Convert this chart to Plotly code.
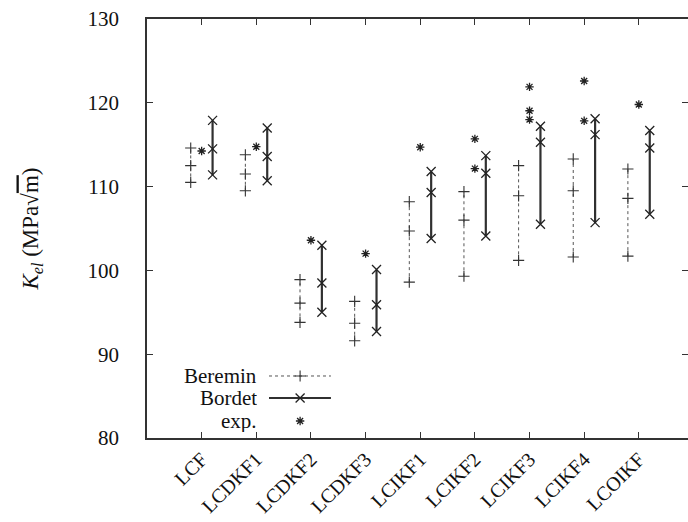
import plotly.graph_objects as go

categories = ["LCF", "LCDKF1", "LCDKF2", "LCDKF3", "LCIKF1", "LCIKF2", "LCIKF3", "LCIKF4", "LCOIKF"]
beremin_max = [114.6, 113.8, 98.9, 96.3, 108.2, 109.4, 112.5, 113.3, 112.1]
beremin_mid = [112.5, 111.5, 96.1, 93.7, 104.7, 106.0, 108.9, 109.5, 108.6]
beremin_min = [110.5, 109.5, 93.8, 91.6, 98.6, 99.3, 101.2, 101.6, 101.7]
bordet_max = [117.9, 117.0, 103.0, 100.1, 111.8, 113.7, 117.2, 118.1, 116.7]
bordet_mid = [114.5, 113.6, 98.5, 95.9, 109.3, 111.6, 115.3, 116.2, 114.6]
bordet_min = [111.4, 110.7, 95.0, 92.7, 103.8, 104.1, 105.5, 105.7, 106.7]
exp_values = [[114.25], [114.76], [103.6], [102.0], [114.7], [115.7, 112.15],
              [121.9, 119.05, 118.0], [122.6, 117.85], [119.8]]
y_ticks = [80, 90, 100, 110, 120, 130]

FONT = "Liberation Serif"
positions = list(range(1, len(categories) + 1))

BER_LINE = dict(color="#555555", width=1, dash="dot")
BER_MARK = dict(symbol="cross-thin-open", size=8, color="#333333",
                line=dict(width=1.1, color="#333333"))
BOR_LINE = dict(color="#303030", width=2.2)
BOR_MARK = dict(symbol="x-thin-open", size=9, color="#222222",
                line=dict(width=1.3, color="#222222"))
EXP_MARK = dict(symbol="asterisk-open", size=7, color="#222222",
                line=dict(width=1.3, color="#222222"))


def group_xy(vmin, vmid, vmax, offset):
    xs, ys = [], []
    for p, a, b, c in zip(positions, vmin, vmid, vmax):
        xs += [p + offset] * 3 + [None]
        ys += [a, b, c, None]
    return xs, ys


fig = go.Figure()

bx, by = group_xy(beremin_min, beremin_mid, beremin_max, -0.2)
fig.add_trace(go.Scatter(x=bx, y=by, mode="lines+markers", name="Beremin",
                         line=BER_LINE, marker=BER_MARK, showlegend=False))

dx, dy = group_xy(bordet_min, bordet_mid, bordet_max, 0.2)
fig.add_trace(go.Scatter(x=dx, y=dy, mode="lines+markers", name="Bordet",
                         line=BOR_LINE, marker=BOR_MARK, showlegend=False))

ex, ey = [], []
for p, vals in zip(positions, exp_values):
    for v in vals:
        ex.append(p)
        ey.append(v)
fig.add_trace(go.Scatter(x=ex, y=ey, mode="markers", name="exp.",
                         marker=EXP_MARK, showlegend=False))

# manual legend (text left, sample right) in an overlay frame of the plot area
leg_rows = [0.148, 0.0955, 0.0406]
leg_x = [0.2255, 0.283, 0.340]
fig.add_trace(go.Scatter(x=leg_x, y=[leg_rows[0]] * 3, xaxis="x2", yaxis="y2",
                         mode="lines", line=BER_LINE, showlegend=False, hoverinfo="skip"))
fig.add_trace(go.Scatter(x=[leg_x[1]], y=[leg_rows[0]], xaxis="x2", yaxis="y2", mode="markers",
                         marker=BER_MARK, showlegend=False, hoverinfo="skip"))
fig.add_trace(go.Scatter(x=leg_x, y=[leg_rows[1]] * 3, xaxis="x2", yaxis="y2",
                         mode="lines", line=BOR_LINE, showlegend=False, hoverinfo="skip"))
fig.add_trace(go.Scatter(x=[leg_x[1]], y=[leg_rows[1]], xaxis="x2", yaxis="y2", mode="markers",
                         marker=BOR_MARK, showlegend=False, hoverinfo="skip"))
fig.add_trace(go.Scatter(x=[leg_x[1]], y=[leg_rows[2]], xaxis="x2", yaxis="y2", mode="markers",
                         marker=EXP_MARK, showlegend=False, hoverinfo="skip"))
for txt, yy in zip(["Beremin", "Bordet", "exp."], leg_rows):
    fig.add_annotation(x=0.207, y=yy, xref="x2", yref="y2", text=txt, showarrow=False,
                       xanchor="right", yanchor="middle", height=22,
                       font=dict(family=FONT, size=21, color="#111111"))

fig.update_layout(
    width=688, height=522,
    margin=dict(l=147, r=0, t=19, b=84),
    paper_bgcolor="white", plot_bgcolor="white",
    font=dict(family=FONT, size=20, color="#111111"),
    xaxis=dict(range=[0, 9.9], tickmode="array", tickvals=positions, ticktext=categories,
               tickangle=-45, ticks="inside", ticklen=6, tickwidth=1.3, tickcolor="#333",
               showline=True, linecolor="#333", linewidth=1.5, mirror="ticks",
               showgrid=False, zeroline=False, automargin=False,
               tickfont=dict(family=FONT, size=20, color="#111111")),
    yaxis=dict(range=[80, 130], tickvals=y_ticks, ticks="inside", ticklen=6, tickwidth=1.3,
               tickcolor="#333", showline=True, linecolor="#333", linewidth=1.5,
               mirror=False, showgrid=False, zeroline=False, ticklabelstandoff=22,
               automargin=False, tickfont=dict(family=FONT, size=21),
               title=dict(text="<i>K</i><sub><i>el</i></sub> (MPa√<span style='text-decoration:overline'>m</span>)",
                          font=dict(family=FONT, size=23), standoff=42)),
    yaxis3=dict(range=[80, 130], tickvals=y_ticks, overlaying="y", side="right",
                ticks="inside", ticklen=6, tickwidth=1.3, tickcolor="#333",
                showticklabels=False, showline=False, showgrid=False, zeroline=False),
    xaxis2=dict(range=[0, 1], overlaying="x", visible=False),
    yaxis2=dict(range=[0, 1], overlaying="y", visible=False),
)
# empty trace to activate the right-hand tick axis
fig.add_trace(go.Scatter(x=[None], y=[None], yaxis="y3", showlegend=False, hoverinfo="skip"))

fig.write_html("out.html")
